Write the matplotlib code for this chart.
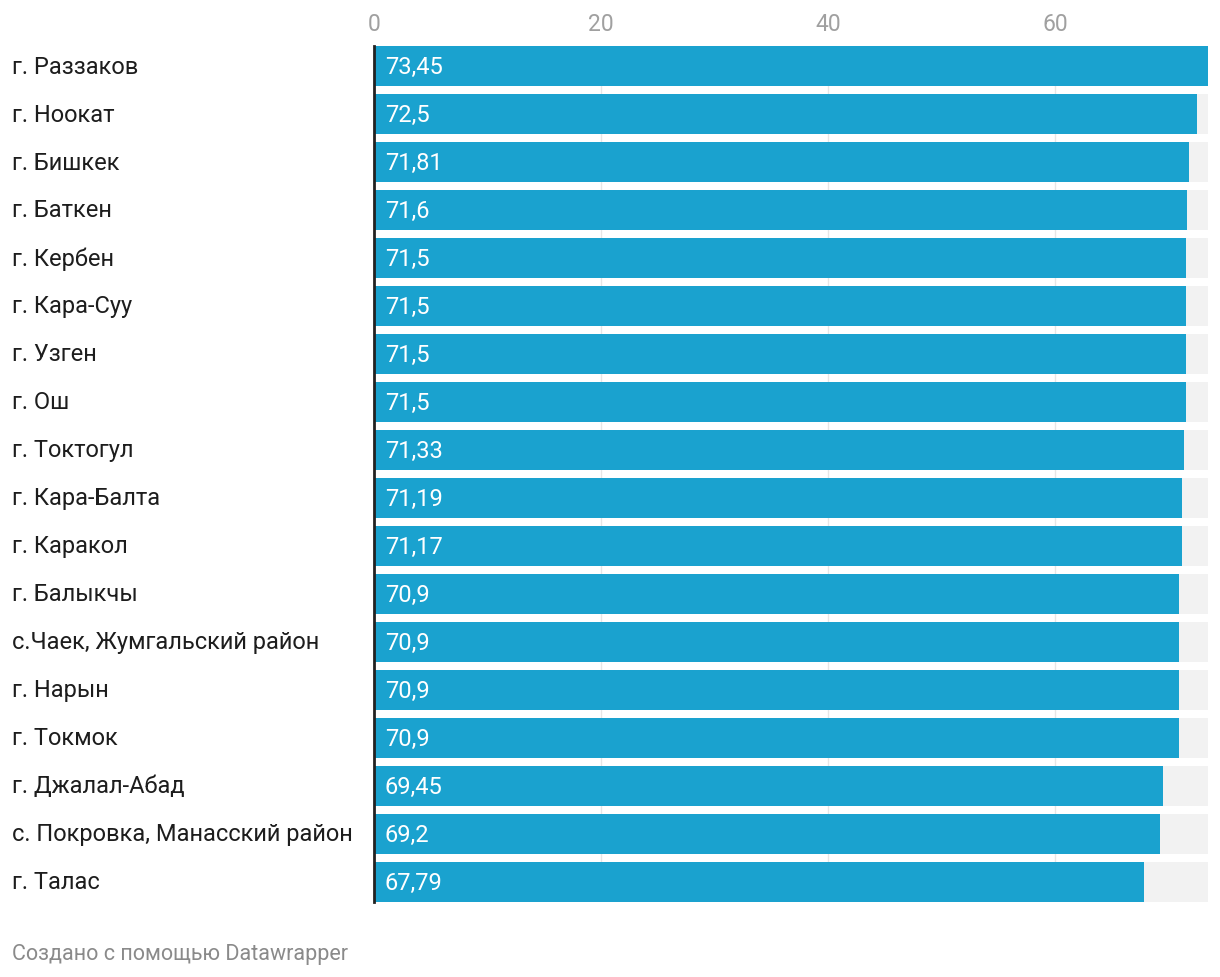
import matplotlib.pyplot as plt
from matplotlib.transforms import blended_transform_factory

plt.rcParams['font.family'] = ['Roboto', 'DejaVu Sans']

cities = ['г. Раззаков', 'г. Ноокат', 'г. Бишкек', 'г. Баткен', 'г. Кербен',
          'г. Кара-Суу', 'г. Узген', 'г. Ош', 'г. Токтогул', 'г. Кара-Балта',
          'г. Каракол', 'г. Балыкчы', 'с.Чаек, Жумгальский район', 'г. Нарын',
          'г. Токмок', 'г. Джалал-Абад', 'с. Покровка, Манасский район', 'г. Талас']
values = [73.45, 72.5, 71.81, 71.6, 71.5, 71.5, 71.5, 71.5, 71.33, 71.19,
          71.17, 70.9, 70.9, 70.9, 70.9, 69.45, 69.2, 67.79]
ticks = [0, 20, 40, 60]

W, H = 1220, 978
fig = plt.figure(figsize=(W / 100, H / 100), dpi=100)
ax = fig.add_axes([374 / W, 1 - 903 / H, (1208 - 374) / W, (903 - 47) / H])

n = len(values)
vmax = max(values)
ypos = list(range(n))
bh = 40 / 48

# grey background bars and blue bars
ax.barh(ypos, [vmax] * n, height=bh, color='#f2f2f2', zorder=1)
ax.barh(ypos, values, height=bh, color='#1aa2cf', zorder=2)

for y, v in zip(ypos, values):
    ax.text(0.95, y, f'{v:g}'.replace('.', ','), color='white', fontsize=17,
            va='center', ha='left', zorder=3)

ax.set_xlim(0, vmax)
ax.set_ylim(n - 1 + bh / 2, -bh / 2)
ax.set_yticks([])

# category labels, left aligned at the figure edge
tr = blended_transform_factory(fig.transFigure, ax.transData)
for y, c in zip(ypos, cities):
    ax.text(12 / W, y, c, transform=tr, fontsize=17, color='#1d1d1d',
            va='center', ha='left')

ax.xaxis.tick_top()
ax.set_xticks(ticks)
ax.set_xticklabels([str(t) for t in ticks], fontsize=16.5, color='#a0a0a0')
ax.tick_params(axis='x', length=0, pad=8)
ax.grid(axis='x', color='#e6e6e6', linewidth=1, zorder=0)
ax.set_axisbelow(True)

for s in ['top', 'right', 'bottom']:
    ax.spines[s].set_visible(False)
ax.spines['left'].set_color('#222222')
ax.spines['left'].set_linewidth(2)
ax.spines['left'].set_zorder(4)

fig.text(12 / W, 1 - 955 / H, 'Создано с помощью Datawrapper', fontsize=15.5,
         color='#8a8a8a', va='center', ha='left')

fig.savefig('out.png', dpi=100)
